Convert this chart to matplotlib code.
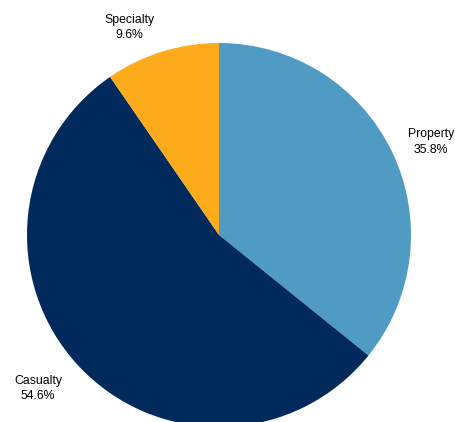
import matplotlib.pyplot as plt

# slices, clockwise from 12 o'clock
segments = ['Property', 'Casualty', 'Specialty']
shares = [35.8, 54.6, 9.6]
colours = ['#4F9BC4', '#002A5C', '#FDAA1B']

# hand-placed label anchors (data units = pixels), like the original
label_pos = [(431, 280), (38, 33.5), (129, 394.5)]

plt.rcParams['font.family'] = ['Liberation Sans', 'DejaVu Sans']

fig = plt.figure(figsize=(4.56, 4.22), dpi=100)
ax = fig.add_axes([0, 0, 1, 1])

labels = ['{}\n{}%'.format(s, v) for s, v in zip(segments, shares)]
wedges, texts = ax.pie(shares, colors=colours, labels=labels,
                       startangle=90, counterclock=False,
                       center=(219, 187), radius=192, frame=True,
                       textprops=dict(fontsize=8.8, color='black'))
for t, pos in zip(texts, label_pos):
    t.set_position(pos)
    t.set_ha('center')
    t.set_va('center')
    t.set_multialignment('center')
    t.set_linespacing(1.4)

ax.set_xlim(0, 456)
ax.set_ylim(0, 422)
ax.axis('off')

fig.savefig('out.png', dpi=100)
